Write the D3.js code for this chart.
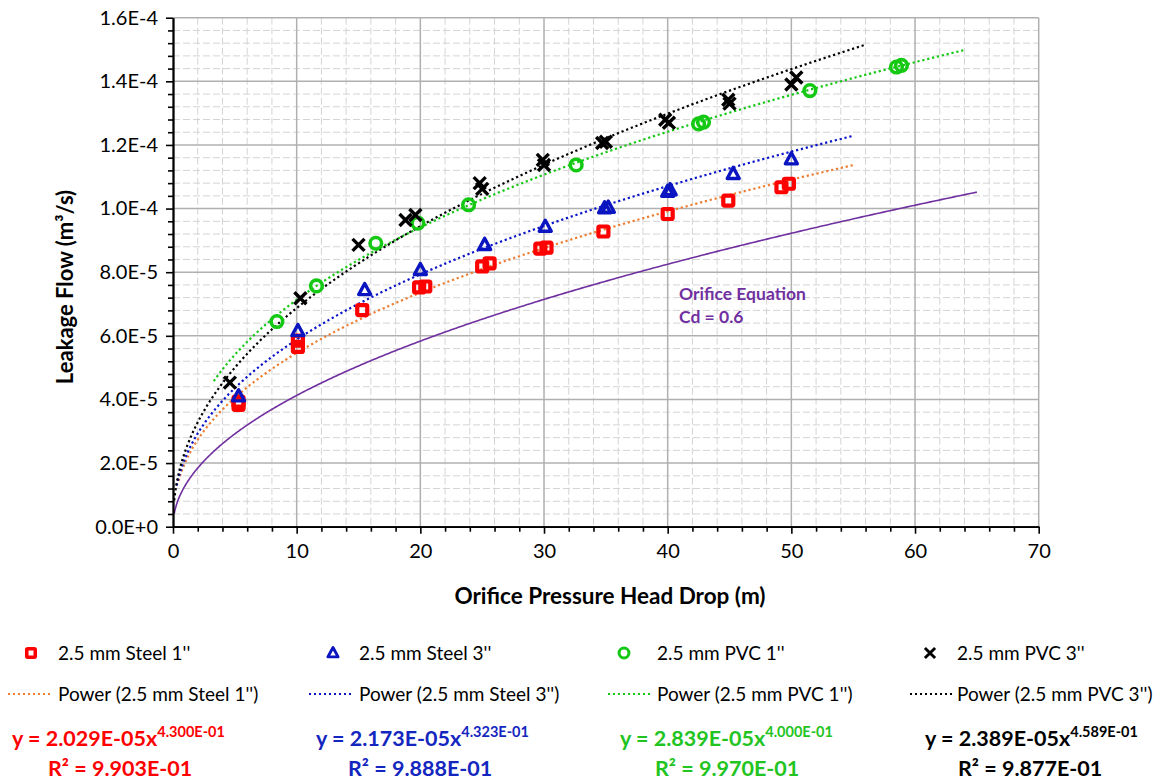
<!DOCTYPE html>
<html>
<head>
<meta charset="utf-8">
<script src="https://cdn.jsdelivr.net/npm/d3@7"></script>
<style>
  body { margin: 0; background: #fff; }
  text { font-family: Lato, "Open Sans", "DejaVu Sans", sans-serif; }
</style>
</head>
<body>
<svg id="chart" width="1165" height="782"></svg>
<script>
// ---- measured leakage data (head drop in m, flow in m^3/s) ----
const seriesNames = ["2.5 mm Steel 1''", "2.5 mm Steel 3''", "2.5 mm PVC 1''", "2.5 mm PVC 3''"];

const steel1X = [5.3, 5.3, 10.1, 10.1, 15.3, 19.9, 20.4, 25.0, 25.6, 29.7, 30.2, 34.8, 40.0, 44.9, 49.2, 49.8];
const steel1Y = [3.83e-5, 3.93e-5, 5.65e-5, 5.85e-5, 6.81e-5, 7.52e-5, 7.55e-5, 8.18e-5, 8.28e-5, 8.74e-5, 8.77e-5, 9.28e-5, 9.83e-5, 10.25e-5, 10.67e-5, 10.78e-5];

const steel3X = [5.3, 10.1, 15.5, 20.0, 25.2, 30.1, 34.9, 35.2, 40.0, 40.2, 45.3, 50.0];
const steel3Y = [4.10e-5, 6.15e-5, 7.44e-5, 8.07e-5, 8.86e-5, 9.43e-5, 10.01e-5, 10.03e-5, 10.53e-5, 10.58e-5, 11.09e-5, 11.55e-5];

const pvc1X = [8.4, 11.6, 16.4, 19.8, 23.9, 32.6, 42.5, 42.9, 51.5, 58.5, 58.9];
const pvc1Y = [6.45e-5, 7.57e-5, 8.91e-5, 9.54e-5, 10.12e-5, 11.37e-5, 12.66e-5, 12.72e-5, 13.71e-5, 14.45e-5, 14.50e-5];

const pvc3X = [4.6, 10.3, 15.0, 18.8, 19.6, 24.8, 25.0, 29.9, 30.0, 34.7, 35.0, 39.8, 40.1, 44.9, 45.0, 50.0, 50.4];
const pvc3Y = [4.53e-5, 7.18e-5, 8.86e-5, 9.64e-5, 9.80e-5, 10.80e-5, 10.62e-5, 11.53e-5, 11.37e-5, 12.06e-5, 12.10e-5, 12.79e-5, 12.70e-5, 13.42e-5, 13.30e-5, 13.90e-5, 14.12e-5];

// ---- power trendlines y = a * x^b ----
const fitA  = [2.029e-5, 2.173e-5, 2.839e-5, 2.389e-5];
const fitB  = [4.300e-1, 4.323e-1, 4.000e-1, 4.589e-1];
const fitR2 = [9.903e-1, 9.888e-1, 9.970e-1, 9.877e-1];
const fitFrom = [0.45, 0.3, 3.3, 0.1];
const fitTo   = [55, 55, 64, 56];

// ---- orifice equation Q = Cd * A * sqrt(2 g H) ----
const orificeCd = 0.6;
const orificeDiameter = 0.0025;   // m
const gravity = 9.81;
const orificeHeadFrom = 0.1, orificeHeadTo = 65;

// ---- axis ticks ----
const xTicks = [0, 10, 20, 30, 40, 50, 60, 70];
const yTicks = [0, 2e-5, 4e-5, 6e-5, 8e-5, 1.0e-4, 1.2e-4, 1.4e-4, 1.6e-4];
const xMinorStep = 2;
const yMinorStep = 4e-6;

// ---- styling ----
const markerColors = ["#ff0000", "#0a14c0", "#14c814", "#000000"];
const trendColors  = ["#ed7d31", "#0a14c8", "#14c814", "#000000"];
const eqColors     = ["#ff0000", "#1426c0", "#22c422", "#000000"];
const markerTypes  = ["square", "triangle", "circle", "cross"];

const svg = d3.select("#chart");
const W = 1165, H = 782;
const plot = { left: 173, right: 1038.7, top: 17.7, bottom: 526.7 };

const x = d3.scaleLinear().domain([0, 70]).range([plot.left, plot.right]);
const y = d3.scaleLinear().domain([0, 1.6e-4]).range([plot.bottom, plot.top]);

svg.append("rect").attr("width", W).attr("height", H).attr("fill", "#fff");

// grid
const grid = svg.append("g");
const xMinor = d3.range(0, 70 + 1e-9, xMinorStep).filter(v => v % 10 !== 0);
const yMinor = d3.range(0, 1.6e-4 + 1e-12, yMinorStep).filter(v => Math.abs(v / 2e-5 - Math.round(v / 2e-5)) > 1e-6);

grid.selectAll(".vmin").data(xMinor).join("line")
  .attr("x1", d => x(d)).attr("x2", d => x(d))
  .attr("y1", plot.top).attr("y2", plot.bottom)
  .attr("stroke", "#d4d4d4").attr("stroke-width", 1).attr("stroke-dasharray", "7,3");
grid.selectAll(".hmin").data(yMinor).join("line")
  .attr("y1", d => y(d)).attr("y2", d => y(d))
  .attr("x1", plot.left).attr("x2", plot.right)
  .attr("stroke", "#d4d4d4").attr("stroke-width", 1).attr("stroke-dasharray", "7,3");
grid.selectAll(".vmaj").data(xTicks.slice(1)).join("line")
  .attr("x1", d => x(d)).attr("x2", d => x(d))
  .attr("y1", plot.top).attr("y2", plot.bottom)
  .attr("stroke", "#b0b0b0").attr("stroke-width", 1.5);
grid.selectAll(".hmaj").data(yTicks.slice(1)).join("line")
  .attr("y1", d => y(d)).attr("y2", d => y(d))
  .attr("x1", plot.left).attr("x2", plot.right)
  .attr("stroke", "#b0b0b0").attr("stroke-width", 1.5);

// sample a function across a domain for drawing a smooth curve
function sampleCurve(f, x0, x1, n = 400) {
  return d3.range(n + 1).map(i => {
    const t = i / n;
    const xv = x0 + (x1 - x0) * t * t;
    return [xv, f(xv)];
  });
}
const line = d3.line().x(d => x(d[0])).y(d => y(d[1]));

// orifice equation curve
const orificeArea = Math.PI * orificeDiameter * orificeDiameter / 4;
const orificeQ = h => orificeCd * orificeArea * Math.sqrt(2 * gravity * h);
svg.append("path")
  .attr("d", line(sampleCurve(orificeQ, orificeHeadFrom, orificeHeadTo)))
  .attr("fill", "none").attr("stroke", "#7030a0").attr("stroke-width", 1.6);

// trendlines
fitA.forEach((a, i) => {
  svg.append("path")
    .attr("d", line(sampleCurve(v => a * Math.pow(v, fitB[i]), fitFrom[i], fitTo[i])))
    .attr("fill", "none").attr("stroke", trendColors[i]).attr("stroke-width", 2.2)
    .attr("stroke-dasharray", "2.2,2.8");
});

// markers
function drawMarker(g, type, color, s = 1) {
  if (type === "square") {
    g.append("rect").attr("x", -5 * s).attr("y", -5 * s).attr("width", 10 * s).attr("height", 10 * s)
      .attr("rx", 1).attr("fill", "none").attr("stroke", color).attr("stroke-width", 4.2 * s)
      .attr("stroke-linejoin", "round");
  } else if (type === "triangle") {
    g.append("path").attr("d", `M0,${-6.5 * s}L${6 * s},${4.6 * s}L${-6 * s},${4.6 * s}Z`)
      .attr("fill", "none").attr("stroke", color).attr("stroke-width", 3.4 * s)
      .attr("stroke-linejoin", "round");
  } else if (type === "circle") {
    g.append("circle").attr("r", 5.8 * s).attr("fill", "none").attr("stroke", color)
      .attr("stroke-width", 3.6 * s);
  } else {
    g.append("path").attr("d", `M${-6 * s},${-6 * s}L${6 * s},${6 * s}M${6 * s},${-6 * s}L${-6 * s},${6 * s}`)
      .attr("stroke", color).attr("stroke-width", 3.4 * s);
  }
}

const seriesData = [
  d3.zip(steel1X, steel1Y),
  d3.zip(steel3X, steel3Y),
  d3.zip(pvc1X, pvc1Y),
  d3.zip(pvc3X, pvc3Y)
];
seriesData.forEach((pts, i) => {
  const g = svg.append("g");
  pts.forEach(p => {
    const m = g.append("g").attr("transform", `translate(${x(p[0])},${y(p[1])})`);
    drawMarker(m, markerTypes[i], markerColors[i]);
  });
});

// axes
const yMinorAxis = d3.axisLeft(y).tickValues(yMinor).tickSize(5).tickFormat("").tickSizeOuter(0);
const yMajorAxis = d3.axisLeft(y).tickValues(yTicks).tickSize(7).tickSizeOuter(0).tickPadding(8)
  .tickFormat(v => v === 0 ? "0.0E+0" : v.toExponential(1).toUpperCase());
const xMinorAxis = d3.axisBottom(x).tickValues(xMinor).tickSize(5).tickFormat("").tickSizeOuter(0);
const xMajorAxis = d3.axisBottom(x).tickValues(xTicks).tickSize(7).tickSizeOuter(0).tickPadding(10)
  .tickFormat(d3.format("d"));

function styleAxis(g) {
  g.select(".domain").attr("stroke", "#000").attr("stroke-width", 1.8);
  g.selectAll(".tick line").attr("stroke", "#000").attr("stroke-width", 1.6);
  g.selectAll("text").attr("font-size", 20).attr("fill", "#000")
    .style("font-family", "Lato, 'Open Sans', sans-serif");
}
svg.append("g").attr("transform", `translate(${plot.left},0)`).call(yMinorAxis).call(styleAxis);
svg.append("g").attr("transform", `translate(${plot.left},0)`).call(yMajorAxis).call(styleAxis);
svg.append("g").attr("transform", `translate(0,${plot.bottom})`).call(xMinorAxis).call(styleAxis);
svg.append("g").attr("transform", `translate(0,${plot.bottom})`).call(xMajorAxis).call(styleAxis);

// axis titles
svg.append("text").attr("x", 610).attr("y", 604).attr("text-anchor", "middle")
  .attr("font-size", 22.5).attr("font-weight", "bold").text("Orifice Pressure Head Drop (m)");
svg.append("text").attr("transform", "translate(73,287) rotate(-90)").attr("text-anchor", "middle")
  .attr("font-size", 22).attr("font-weight", "bold")
  .text("Leakage Flow (m³/s)");

// orifice curve annotation
const ann = svg.append("text").attr("x", 679).attr("font-size", 17.5).attr("font-weight", "bold").attr("fill", "#7030a0");
ann.append("tspan").attr("x", 679).attr("y", 300).text("Orifice Equation");
ann.append("tspan").attr("x", 679).attr("y", 323).text("Cd = " + orificeCd);

// legend
const legMarkerX = [31, 333, 624, 930];
const legTextX = [58, 359, 657, 957];
const legLineX0 = [8, 309, 608, 910];
const legLineX1 = [53, 354, 653, 954];
const legRow1 = 653, legRow2 = 694;

seriesNames.forEach((name, i) => {
  const m = svg.append("g").attr("transform", `translate(${legMarkerX[i]},${legRow1})`);
  drawMarker(m, markerTypes[i], markerColors[i], 0.85);
  svg.append("text").attr("x", legTextX[i]).attr("y", legRow1 + 6.5).attr("font-size", 19).text(name);

  svg.append("line").attr("x1", legLineX0[i]).attr("x2", legLineX1[i]).attr("y1", legRow2).attr("y2", legRow2)
    .attr("stroke", trendColors[i]).attr("stroke-width", 2).attr("stroke-dasharray", "2,3");
  svg.append("text").attr("x", legTextX[i]).attr("y", legRow2 + 6.5).attr("font-size", 19)
    .text(`Power (${name})`);
});

// trendline equations
function sci(v) {
  const [m, e] = v.toExponential(3).split("e");
  const n = parseInt(e, 10);
  return m.toUpperCase() + "E" + (n < 0 ? "-" : "+") + String(Math.abs(n)).padStart(2, "0");
}
const eqX = [12, 316, 620, 925];
const r2X = [48, 348, 655, 958];
fitA.forEach((a, i) => {
  const t = svg.append("text").attr("x", eqX[i]).attr("y", 746).attr("font-size", 21.5)
    .attr("font-weight", "bold").attr("fill", eqColors[i]);
  t.append("tspan").text(`y = ${sci(a)}x`);
  t.append("tspan").attr("dy", -9).attr("font-size", 14.5).text(sci(fitB[i]));
  svg.append("text").attr("x", r2X[i]).attr("y", 776).attr("font-size", 21.5)
    .attr("font-weight", "bold").attr("fill", eqColors[i]).text(`R² = ${sci(fitR2[i])}`);
});
</script>
</body>
</html>
